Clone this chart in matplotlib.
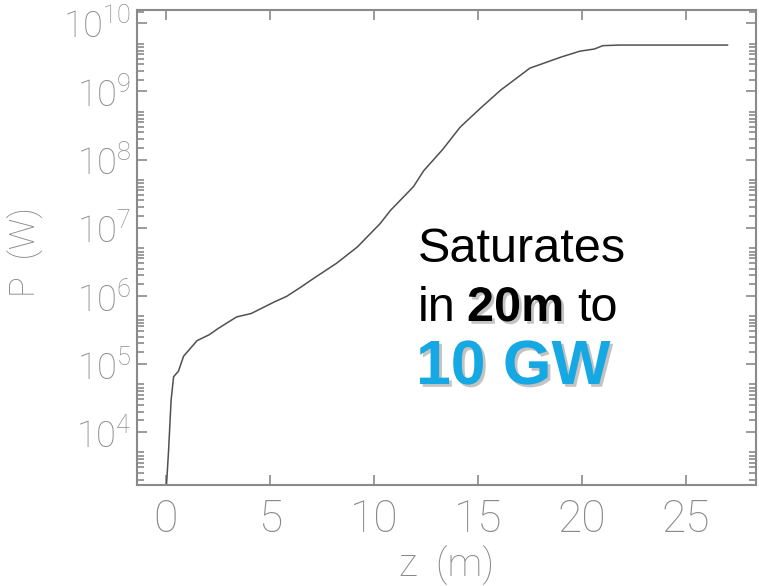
import matplotlib
matplotlib.use("Agg")
import matplotlib.pyplot as plt
import matplotlib.patheffects as pe
from matplotlib.ticker import FixedLocator, NullFormatter

# Power growth along the undulator
z_m = [0.0, 0.13, 0.25, 0.37, 0.6, 0.85, 1.5, 2.1, 2.5, 3.4, 4.1, 5.2, 5.8,
       6.5, 7.1, 8.2, 9.2, 10.3, 10.8, 11.9, 12.4, 13.3, 14.15, 15.1, 16.1,
       17.5, 19.0, 19.9, 20.6, 21.0, 21.8, 27.0]
power_w = [1.2e3, 5.5e3, 2.95e4, 6.5e4, 7.8e4, 1.3e5, 2.2e5, 2.7e5, 3.3e5,
           4.9e5, 5.5e5, 8.1e5, 9.8e5, 1.35e6, 1.8e6, 3.0e6, 5.2e6, 1.15e7,
           1.8e7, 4.0e7, 6.9e7, 1.4e8, 3.0e8, 5.6e8, 1.05e9, 2.2e9, 3.2e9,
           3.9e9, 4.2e9, 4.7e9, 4.8e9, 4.8e9]

x_ticks = [0, 5, 10, 15, 20, 25]
y_decades = [4, 5, 6, 7, 8, 9, 10]
y_tick_labels = [r"$\mathregular{10^{%d}}$" % d for d in y_decades]

W, H = 759, 586
GRAY = "#8a8a8a"
THIN = "Roboto"


def fx(px):
    return px / W


def fy(py):
    return 1 - py / H


fig = plt.figure(figsize=(W / 100, H / 100), dpi=100)
ax = fig.add_axes([fx(137), fy(485), fx(756) - fx(137), fy(10) - fy(485)])

ax.plot(z_m, power_w, color="#505050", lw=1.1)

ax.set_yscale("log")
ax.set_xlim(-1.39, 28.37)
ax.set_ylim(1.67e3, 1.57e10)

ax.set_xticks(x_ticks)
ax.set_xticklabels([str(t) for t in x_ticks], fontsize=32, family=THIN,
                   fontweight="light")
ax.set_yticks([10.0 ** d for d in y_decades])
ax.set_yticklabels(y_tick_labels, fontsize=26, family=THIN, fontweight="light")

# the IDL minor ticks sit a bit squeezed inside each decade
minor_fracs = [0.17, 0.3, 0.4, 0.48, 0.55, 0.6, 0.65, 0.7]
minors = [10 ** (d + f) for d in range(3, 11) for f in minor_fracs]
ax.yaxis.set_minor_locator(FixedLocator(minors))
ax.yaxis.set_minor_formatter(NullFormatter())
ax.xaxis.set_minor_locator(FixedLocator([]))

ax.tick_params(which="both", direction="in", top=True, right=True,
               color=GRAY, labelcolor=GRAY, width=1.2)
ax.tick_params(axis="x", which="major", length=7, pad=10)
ax.tick_params(axis="y", which="major", length=7, pad=4)
ax.tick_params(axis="y", which="minor", length=5)

for s in ax.spines.values():
    s.set_color(GRAY)
    s.set_linewidth(1.5)

fig.text(fx(447), fy(565), "z  (m)", fontsize=28, family=THIN,
         fontweight="light", color=GRAY, ha="center", va="center")
fig.text(fx(26), fy(252), "P  (W)", fontsize=25, family=THIN,
         fontweight="light", color=GRAY, ha="center", va="center",
         rotation=90)

# annotation
ANN = "Liberation Sans"
shadow = [pe.withSimplePatchShadow(offset=(2, -2), shadow_rgbFace="#888888",
                                   alpha=0.5)]
fig.text(fx(418), fy(262), "Saturates", fontsize=35, family=ANN,
         color="black", va="baseline")
fig.text(fx(418), fy(321), "in", fontsize=35, family=ANN, color="black",
         va="baseline")
fig.text(fx(467), fy(321), "20m", fontsize=35, family=ANN,
         fontweight="bold", color="black", va="baseline", path_effects=shadow)
fig.text(fx(577), fy(321), "to", fontsize=35, family=ANN, color="black",
         va="baseline")
fig.text(fx(416), fy(384), "10 GW", fontsize=45, family=ANN,
         fontweight="bold", color="#16a8e3", va="baseline",
         path_effects=shadow)

fig.savefig("out.png", dpi=100)
